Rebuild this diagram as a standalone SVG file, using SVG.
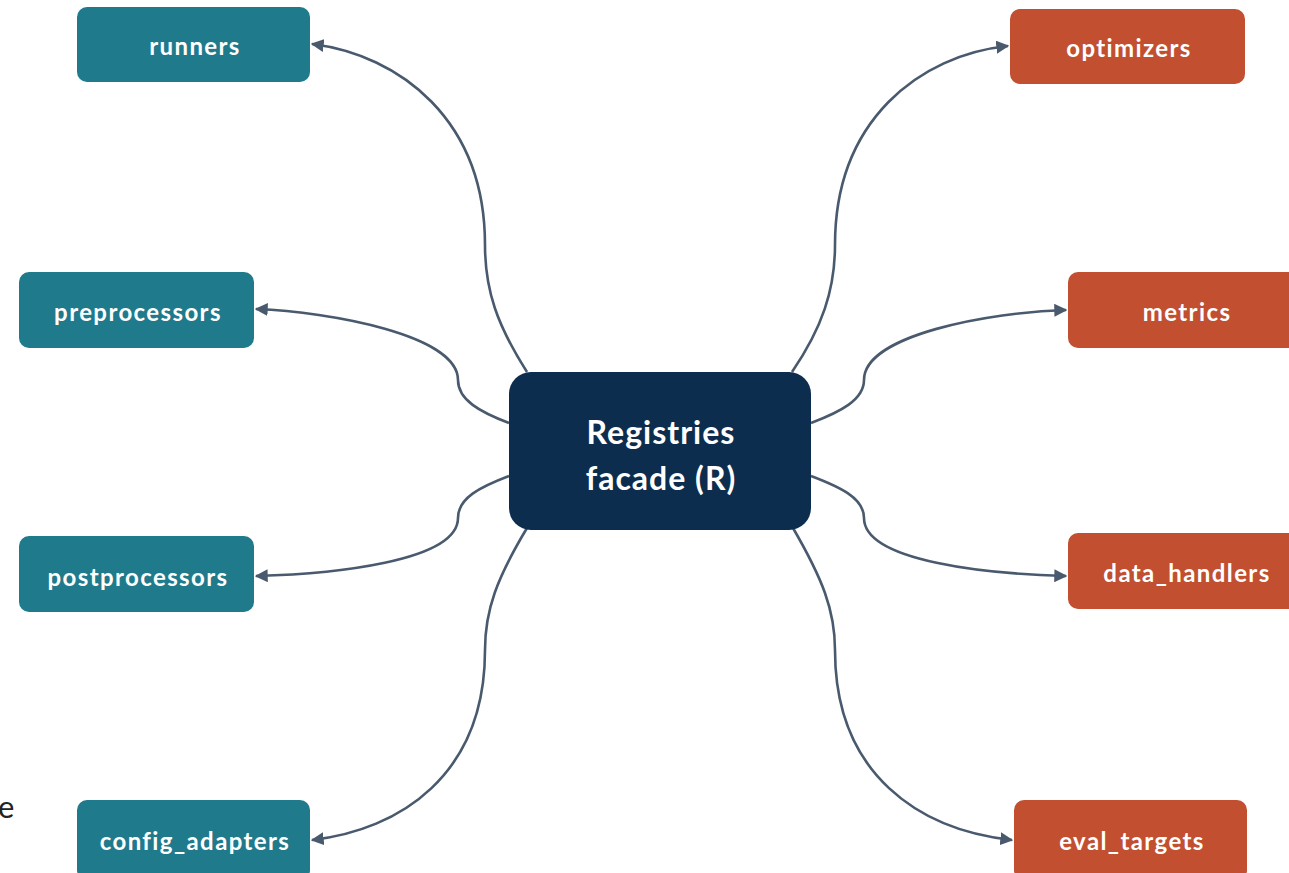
<svg xmlns="http://www.w3.org/2000/svg" width="1289" height="873" viewBox="0 0 1289 873">
  <style>
    .lbl { font-family: Lato, "Open Sans", "Liberation Sans", sans-serif; font-weight: 700; fill: #ffffff; text-anchor: middle; dominant-baseline: central; }
    .small { font-size: 24px; letter-spacing: 1.4px; }
    .big { font-size: 32px; letter-spacing: 1px; }
    .teal { fill: #1F7A8C; }
    .rust { fill: #C14F30; }
    .hub { fill: #0D2D4F; }
    .edge { fill: none; stroke: #4A5A6E; stroke-width: 2.6; marker-end: url(#arrow); }
  </style>
  <defs>
    <marker id="arrow" viewBox="0 0 10 10" refX="9" refY="5" markerWidth="5" markerHeight="5" orient="auto" markerUnits="strokeWidth">
      <path d="M0,0 L10,5 L0,10 z" fill="#4A5A6E"/>
    </marker>
  </defs>
  <rect width="1289" height="873" fill="#ffffff"/>

  <text x="-2" y="806" font-family="Lato, 'Open Sans', sans-serif" font-size="31" fill="#222" dominant-baseline="central">e</text>

  <g id="connectors">
    <path class="edge" d="M527,372 C497,325 485,290 485,245 C485,120 400,55 312,44"/>
    <path class="edge" d="M509,423 C480,412 458,400 458,380 C458,335 330,312 256,309"/>
    <path class="edge" d="M509,476 C480,487 458,498 458,518 C458,562 330,574 256,576"/>
    <path class="edge" d="M527,528 C497,578 485,610 485,650 C485,775 400,830 312,840"/>
    <path class="edge" d="M792,372 C822,328 835,290 835,245 C835,120 920,55 1008,46"/>
    <path class="edge" d="M811,423 C840,412 864,400 864,380 C864,335 990,312 1066,310"/>
    <path class="edge" d="M811,476 C840,487 864,498 864,518 C864,562 990,574 1066,576"/>
    <path class="edge" d="M793,528 C822,578 835,610 835,650 C835,775 920,830 1012,840"/>
  </g>

  <g id="hub">
    <rect class="hub" x="509" y="372" width="302" height="158" rx="22"/>
    <text class="lbl big" x="661" y="431">Registries</text>
    <text class="lbl big" x="661" y="477">facade (R)</text>
  </g>

  <g id="runners">
    <rect class="teal" x="77" y="7" width="233" height="75" rx="10"/>
    <text class="lbl small" x="195" y="45">runners</text>
  </g>
  <g id="preprocessors">
    <rect class="teal" x="19" y="272" width="235" height="76" rx="10"/>
    <text class="lbl small" x="138" y="311">preprocessors</text>
  </g>
  <g id="postprocessors">
    <rect class="teal" x="19" y="536" width="235" height="76" rx="10"/>
    <text class="lbl small" x="138" y="576">postprocessors</text>
  </g>
  <g id="config_adapters">
    <rect class="teal" x="77" y="800" width="233" height="80" rx="10"/>
    <text class="lbl small" x="195" y="840">config_adapters</text>
  </g>

  <g id="optimizers">
    <rect class="rust" x="1010" y="9" width="235" height="75" rx="10"/>
    <text class="lbl small" x="1129" y="47">optimizers</text>
  </g>
  <g id="metrics">
    <rect class="rust" x="1068" y="272" width="240" height="76" rx="10"/>
    <text class="lbl small" x="1187" y="311">metrics</text>
  </g>
  <g id="data_handlers">
    <rect class="rust" x="1068" y="533" width="240" height="76" rx="10"/>
    <text class="lbl small" x="1187" y="572">data_handlers</text>
  </g>
  <g id="eval_targets">
    <rect class="rust" x="1014" y="800" width="233" height="80" rx="10"/>
    <text class="lbl small" x="1132" y="840">eval_targets</text>
  </g>
</svg>
